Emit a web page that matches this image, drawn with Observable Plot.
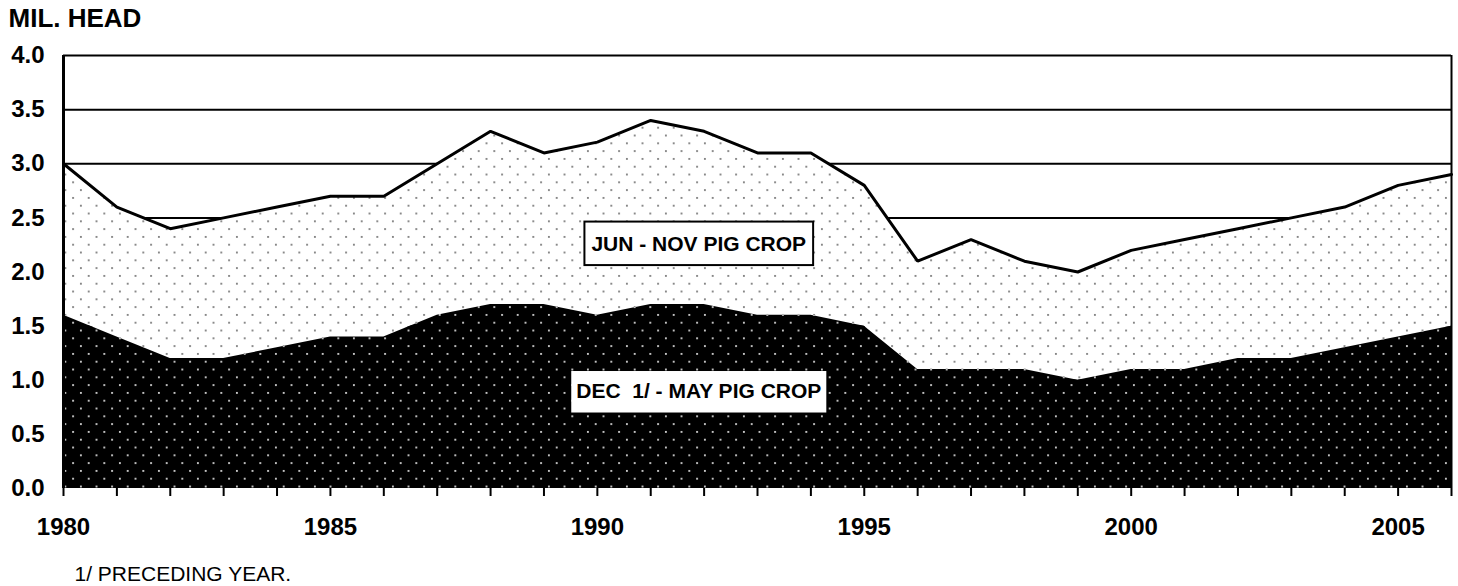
<!DOCTYPE html>
<html>
<head>
<meta charset="utf-8">
<script src="https://cdn.jsdelivr.net/npm/d3@7"></script>
<script src="https://cdn.jsdelivr.net/npm/@observablehq/plot@0.6"></script>
<style>
  html, body { margin: 0; padding: 0; background: #fff; }
  svg { font-family: "Liberation Sans", Arial, sans-serif; }
</style>
</head>
<body>
<div id="chart"></div>
<script>
const years = [1980,1981,1982,1983,1984,1985,1986,1987,1988,1989,1990,1991,1992,1993,1994,1995,1996,1997,1998,1999,2000,2001,2002,2003,2004,2005,2006];
const decMay = [1.6,1.4,1.2,1.2,1.3,1.4,1.4,1.6,1.7,1.7,1.6,1.7,1.7,1.6,1.6,1.5,1.1,1.1,1.1,1.0,1.1,1.1,1.2,1.2,1.3,1.4,1.5];
const junNov = [1.4,1.2,1.2,1.3,1.3,1.3,1.3,1.4,1.6,1.4,1.6,1.7,1.6,1.5,1.5,1.3,1.0,1.2,1.0,1.0,1.1,1.2,1.2,1.3,1.3,1.4,1.4];
const yTicks = [0,0.5,1.0,1.5,2.0,2.5,3.0,3.5,4.0];
const xLabelYears = [1980,1985,1990,1995,2000,2005];
const titleText = "MIL. HEAD";
const footnoteText = "1/ PRECEDING YEAR.";
const seriesLabels = [
  {text: "JUN - NOV PIG CROP", year: 1991.9, value: 2.26, boxed: true},
  {text: "DEC\u00a0 1/ - MAY PIG CROP", year: 1991.9, value: 0.898, boxed: false}
];

const data = years.map((y, i) => ({year: y, decMay: decMay[i], total: +(decMay[i] + junNov[i]).toFixed(2)}));

const plot = Plot.plot({
  width: 1458,
  height: 586,
  marginLeft: 63,
  marginRight: 7,
  marginTop: 55,
  marginBottom: 98,
  style: {fontFamily: "'Liberation Sans', Arial, sans-serif", background: "#fff", overflow: "visible"},
  x: {domain: [1980, 2006], axis: null, label: null},
  y: {domain: [0, 4], axis: null, label: null},
  marks: [
    Plot.ruleY(yTicks.filter(d => d > 0), {stroke: "#000", strokeWidth: 2}),
    Plot.areaY(data, {x: "year", y1: "decMay", y2: "total", fill: "url(#dotsLight)"}),
    Plot.areaY(data, {x: "year", y1: 0, y2: "decMay", fill: "url(#dotsDark)"}),
    Plot.line(data, {x: "year", y: "total", stroke: "#000", strokeWidth: 3, strokeLinejoin: "miter"}),
    Plot.ruleX([2006], {stroke: "#000", strokeWidth: 2}),
    Plot.ruleX([1980], {stroke: "#000", strokeWidth: 3}),
    Plot.axisY(yTicks, {label: null, tickSize: 0, tickPadding: 19, tickFormat: d => d.toFixed(1), fontSize: 24, fontWeight: "bold", fill: "#000"}),
    Plot.axisX(years, {label: null, tickSize: 8, strokeWidth: 2, stroke: "#000", tickFormat: () => ""}),
    Plot.axisX(xLabelYears, {label: null, tickSize: 0, tickPadding: 29, tickFormat: d => String(d), fontSize: 24, fontWeight: "bold", fill: "#000"}),
    Plot.text(seriesLabels, {x: "year", y: "value", text: "text", fontSize: 21, fontWeight: "bold", fill: "#000"}),
    Plot.text([titleText], {frameAnchor: "top-left", dx: -55, dy: -47, textAnchor: "start", lineAnchor: "top", fontSize: 26, fontWeight: "bold", fill: "#000"}),
    Plot.text([footnoteText], {frameAnchor: "bottom-left", dx: 11, dy: 85.5, textAnchor: "start", lineAnchor: "middle", fontSize: 21, fill: "#000"})
  ]
});

document.getElementById("chart").appendChild(plot);

// patterns
const svg = d3.select(plot);
const defs = svg.insert("defs", ":first-child");
const P = 15.6;
function makePattern(id, bg, dot) {
  const p = defs.append("pattern").attr("id", id).attr("patternUnits", "userSpaceOnUse")
    .attr("width", P).attr("height", P);
  p.append("rect").attr("width", P).attr("height", P).attr("fill", bg);
  p.append("rect").attr("x", 2).attr("y", 2).attr("width", 1.8).attr("height", 1.8).attr("fill", dot);
  p.append("rect").attr("x", 2 + P/2).attr("y", 2 + P/2).attr("width", 1.8).attr("height", 1.8).attr("fill", dot);
}
makePattern("dotsLight", "#fff", "#777");
makePattern("dotsDark", "#000", "#ddd");

// label boxes
svg.selectAll("text").each(function() {
  const lab = seriesLabels.find(l => l.text === this.textContent);
  if (!lab) return;
  const bb = this.getBBox();
  const padX = lab.boxed ? 7 : 5;
  const padTop = lab.boxed ? 10 : 8;
  const padBottom = 10.5;
  const r = d3.select(this.parentNode).insert("rect", () => this)
    .attr("x", bb.x - padX).attr("y", bb.y - padTop)
    .attr("width", bb.width + 2 * padX).attr("height", bb.height + padTop + padBottom)
    .attr("fill", "#fff")
    .attr("stroke", lab.boxed ? "#000" : "none")
    .attr("stroke-width", 2);
  const tr = this.getAttribute("transform");
  if (tr) r.attr("transform", tr);
});
</script>
</body>
</html>
